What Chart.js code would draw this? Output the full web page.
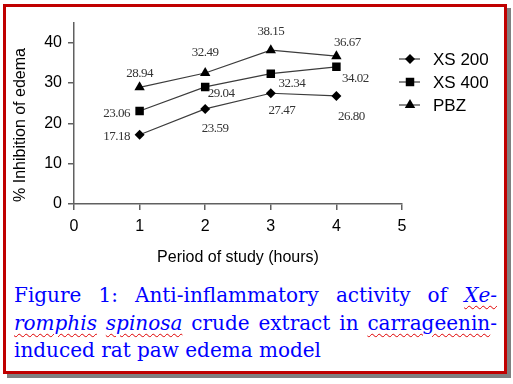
<!DOCTYPE html>
<html>
<head>
<meta charset="utf-8">
<script src="https://cdn.jsdelivr.net/npm/chart.js@4/dist/chart.umd.min.js"></script>
<style>
  html, body { margin: 0; padding: 0; background: #fff; }
  body { width: 513px; height: 384px; position: relative; overflow: hidden; }
  #frame {
    position: absolute; left: 3px; top: 4px;
    width: 498px; height: 364px;
    border: 3px solid #c00000;
    box-shadow: 4px 4px 0 #808080;
    background: #fff;
  }
  #wrap { position: absolute; left: 0; top: 0; width: 498px; height: 265px; }
  #caption {
    position: absolute; left: 8px; top: 275px; width: 483px;
    font-family: "DejaVu Serif", serif; font-size: 20px; line-height: 27.5px;
    color: #0000ff;
  }
  #caption .j { text-align: justify; text-align-last: justify; }
  #caption .sp { text-decoration: underline wavy #e00000; text-decoration-thickness: 1px; text-underline-offset: 3px; }
</style>
</head>
<body>
<div id="frame">
  <div id="wrap"><canvas id="chart" width="498" height="265"></canvas></div>
  <div id="caption">
    <div class="j">Figure 1: Anti-inflammatory activity of <i class="sp">Xe-</i></div>
    <div class="j"><i class="sp">romphis</i> <i class="sp">spinosa</i> crude extract in <span class="sp">carrageenin</span>-</div>
    <div>induced rat paw edema model</div>
  </div>
</div>
<script>
// data
const hours = [1, 2, 3, 4];
const xs200 = [17.18, 23.59, 27.47, 26.80];
const xs400 = [23.06, 29.04, 32.34, 34.02];
const pbz = [28.94, 32.49, 38.15, 36.67];
const seriesNames = ['XS 200', 'XS 400', 'PBZ'];
const xTicks = [0, 1, 2, 3, 4, 5];
const yLabelled = [0, 10, 20, 30, 40];

// label offsets from each point (px), purely placement
const labelOffsets = [
    [[-23, 2], [10, 20], [11, 17], [15, 21]],
    [[-23, 3], [16, 7], [21, 10], [19, 12]],
    [[0, -14], [0, -20], [0, -19], [11, -14]]
];

const lineColor = '#3c3c3c';

function pts(vals) {
    return hours.map((h, i) => ({ x: h, y: vals[i] }));
}

function drawMarker(ctx, style, x, y, r) {
    ctx.beginPath();
    if (style === 'rectRot') {
        ctx.moveTo(x, y - r); ctx.lineTo(x + r, y); ctx.lineTo(x, y + r); ctx.lineTo(x - r, y);
    } else if (style === 'rect') {
        const s = r * Math.SQRT1_2;
        ctx.rect(x - s, y - s, 2 * s, 2 * s);
    } else {
        ctx.moveTo(x, y - r);
        ctx.lineTo(x + r * Math.sin(2 * Math.PI / 3), y + r / 2);
        ctx.lineTo(x - r * Math.sin(2 * Math.PI / 3), y + r / 2);
    }
    ctx.closePath();
    ctx.fill();
}

// value labels next to points
const valueLabels = {
    id: 'valueLabels',
    afterDatasetsDraw(chart) {
        const ctx = chart.ctx;
        ctx.save();
        ctx.font = "13px 'Liberation Serif'";
        ctx.letterSpacing = '-0.5px';
        ctx.fillStyle = '#333';
        ctx.textAlign = 'center';
        ctx.textBaseline = 'middle';
        chart.data.datasets.forEach((ds, di) => {
            chart.getDatasetMeta(di).data.forEach((el, i) => {
                const off = labelOffsets[di][i];
                ctx.fillText(ds.data[i].y.toFixed(2), el.x + off[0], el.y + off[1]);
            });
        });
        ctx.restore();
    }
};

// legend: line with marker, then name
const sideLegend = {
    id: 'sideLegend',
    afterDraw(chart) {
        const ctx = chart.ctx;
        const a = chart.chartArea;
        const rows = [52, 75, 98];
        ctx.save();
        chart.data.datasets.forEach((ds, i) => {
            const y = rows[i];
            const x0 = a.right - 3;
            ctx.strokeStyle = lineColor;
            ctx.lineWidth = 1.2;
            ctx.beginPath();
            ctx.moveTo(x0, y); ctx.lineTo(x0 + 21, y);
            ctx.stroke();
            ctx.fillStyle = '#000';
            drawMarker(ctx, ds.pointStyle, x0 + 11, y, ds.pointRadius);
            ctx.font = '17px Arial';
            ctx.textAlign = 'left';
            ctx.textBaseline = 'middle';
            ctx.fillText(ds.label, x0 + 34, y + 1);
        });
        ctx.restore();
    }
};

// y title sits a little below the middle of the axis in the original
const yTitle = {
    id: 'yTitle',
    afterDraw(chart) {
        const ctx = chart.ctx;
        ctx.save();
        ctx.translate(15, 118);
        ctx.rotate(-Math.PI / 2);
        ctx.font = '16px Arial';
        ctx.fillStyle = '#000';
        ctx.textAlign = 'center';
        ctx.textBaseline = 'middle';
        ctx.fillText('% Inhibition of edema', 0, 0);
        ctx.restore();
    }
};

const common = {
    borderColor: lineColor,
    borderWidth: 1.2,
    pointBackgroundColor: '#000',
    pointBorderColor: '#000',
    pointBorderWidth: 0,
    tension: 0,
    fill: false
};

new Chart(document.getElementById('chart'), {
    type: 'line',
    data: {
        datasets: [
            Object.assign({ label: seriesNames[0], data: pts(xs200), pointStyle: 'rectRot', pointRadius: 5 }, common),
            Object.assign({ label: seriesNames[1], data: pts(xs400), pointStyle: 'rect', pointRadius: 6 }, common),
            Object.assign({ label: seriesNames[2], data: pts(pbz), pointStyle: 'triangle', pointRadius: 6 }, common)
        ]
    },
    options: {
        responsive: false,
        animation: false,
        events: [],
        layout: { padding: { left: 0, top: 14, right: 102, bottom: 0 } },
        plugins: { legend: { display: false }, tooltip: { enabled: false } },
        scales: {
            x: {
                type: 'linear',
                min: 0, max: 5,
                afterBuildTicks: (s) => { s.ticks = xTicks.map(v => ({ value: v })); },
                afterFit: (s) => { s.height = 68; },
                border: { color: '#606060', width: 1.5 },
                grid: { drawOnChartArea: false, drawTicks: true, tickLength: 6, color: '#606060', lineWidth: 1.5 },
                ticks: { color: '#000', font: { family: 'Arial', size: 16 }, padding: 7, maxRotation: 0 },
                title: { display: true, text: 'Period of study (hours)', color: '#000',
                         font: { family: 'Arial', size: 16 }, padding: { top: 0, bottom: 5 } }
            },
            y: {
                min: 0, max: 45,
                ticks: {
                    stepSize: 5,
                    color: '#000', font: { family: 'Arial', size: 16 }, padding: 6,
                    callback: (v) => yLabelled.includes(v) ? String(v) : ''
                },
                afterFit: (s) => { s.width = 68; },
                border: { color: '#606060', width: 1.5 },
                grid: { drawOnChartArea: false, drawTicks: true, tickLength: 6, color: '#606060', lineWidth: 1.5 }
            }
        }
    },
    plugins: [valueLabels, sideLegend, yTitle]
});
</script>
</body>
</html>
